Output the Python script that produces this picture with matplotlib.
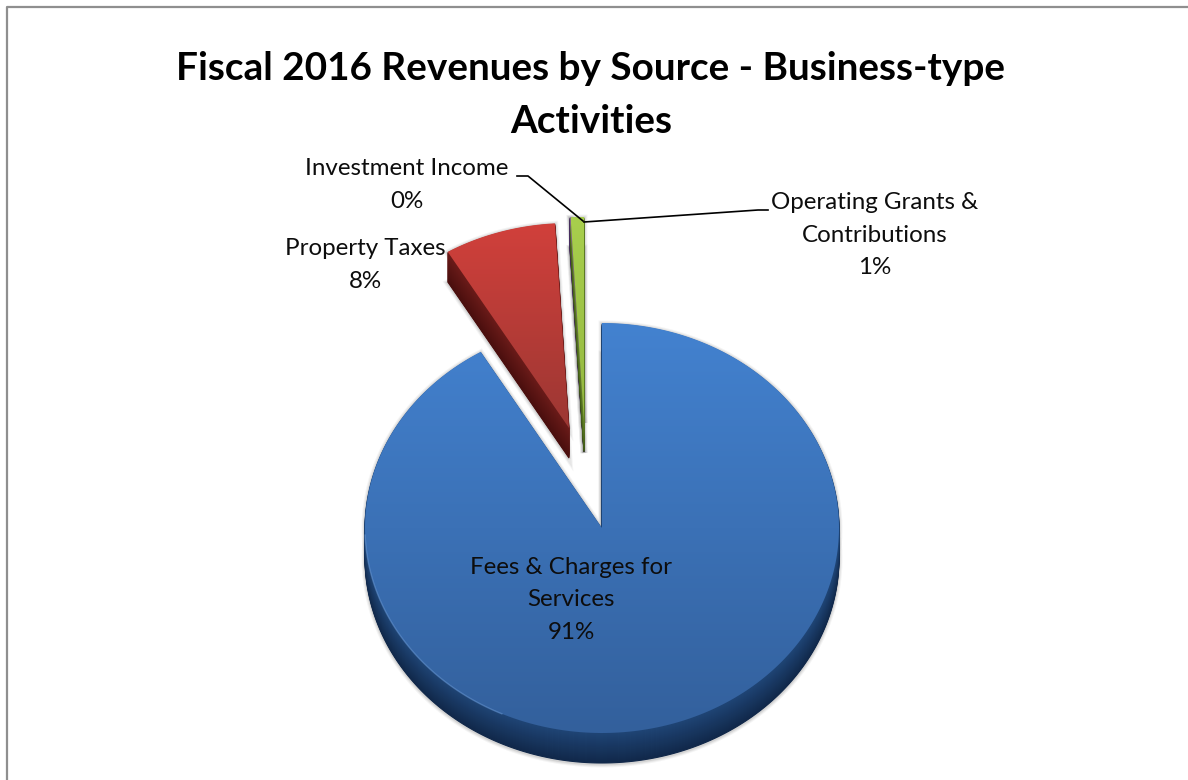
#!/usr/bin/env python3
"""
Fiscal 2016 revenues pie, drawn by hand as a tilted 3-D pie
"""

import numpy as np
import matplotlib
matplotlib.use('Agg')
import matplotlib.pyplot as plt
from matplotlib.colors import LinearSegmentedColormap
from matplotlib.patches import Polygon

title = 'Fiscal 2016 Revenues by Source - Business-type\nActivities'
sources = ['Fees & Charges for\nServices', 'Property Taxes', 'Investment Income', 'Operating Grants &\nContributions']
shares = [91.45, 7.6, 0.05, 0.9]

W, H = 1188, 780
CX, CY = 602, 528
RX, RY = 237, 205
DEPTH = 30

# pixel offset of each slice from the pie centre
offsets = [(0, 0), (-33, -100), (-18, -106), (-18, -106)]
top_colors = [('#4382d0', '#33609c'), ('#d1403b', '#9c3733'), ('#8e5fb0', '#8e5fb0'), ('#a8cf4d', '#94b840')]
side_colors = [('#1f4575', '#11284a'), ('#6a1b19', '#4a0f0e'), ('#4b2d66', '#4b2d66'), ('#5f7d25', '#3d5716')]
label_pos = [(571, 600), (365, 265), (407, 185), (875, 235)]


def slice_outline(start, stop, dx, dy):
    """Slice outline in pixels, angles in degrees clockwise from the top"""
    t = np.radians(np.linspace(start, stop, max(int(stop - start) * 2, 4)))
    xs = CX + dx + RX * np.sin(t)
    ys = CY + dy - RY * np.cos(t)
    return np.column_stack([np.r_[CX + dx, xs], np.r_[CY + dy, ys]])


fig = plt.figure(figsize=(W / 100, H / 100), dpi=100)
ax = fig.add_axes([0, 0, 1, 1])
ax.set_xlim(0, W)
ax.set_ylim(H, 0)
ax.axis('off')

# frame: only the left and top edges are in the picture
ax.plot([7, 7, W], [H, 7, 7], color='#8f8f8f', linewidth=1.6)

stops = np.cumsum([0] + shares) * 3.6
for i in range(len(shares)):
    outline = slice_outline(stops[i], stops[i + 1], *offsets[i])

    # soft grey shadow round the whole slice
    for grow, alpha in [(5, 0.05), (3.5, 0.07), (2, 0.1)]:
        for d in (0, DEPTH):
            ax.add_patch(Polygon(outline + [0, d + 1], closed=True, facecolor='none',
                                 edgecolor=(0.2, 0.2, 0.2, alpha), linewidth=grow))

    # side wall, deepest copy first
    side = LinearSegmentedColormap.from_list('side', side_colors[i])
    for d in range(DEPTH, 0, -1):
        ax.add_patch(Polygon(outline + [0, d], closed=True, facecolor=side(d / DEPTH),
                             edgecolor=side(d / DEPTH), linewidth=0.8))

    # top face with vertical gradient
    face = Polygon(outline, closed=True, facecolor='none', edgecolor='none')
    ax.add_patch(face)
    top = LinearSegmentedColormap.from_list('top', top_colors[i])
    y0, y1 = outline[:, 1].min(), outline[:, 1].max()
    x0, x1 = outline[:, 0].min(), outline[:, 0].max()
    im = ax.imshow(np.linspace(0, 1, 256).reshape(-1, 1), cmap=top, aspect='auto', zorder=2,
                   extent=(x0, x1, y1, y0), interpolation='bilinear')
    im.set_clip_path(face)

# thin light rim on the lower left of the big slice
rim = slice_outline(205, 268, 0, 0)[1:]
ax.plot(rim[:, 0], rim[:, 1], color='#6f9fdc', linewidth=1.0, alpha=0.5, zorder=2.5)

ax.set_xlim(0, W)
ax.set_ylim(H, 0)

ax.text(591, 95, title, ha='center', va='center', fontsize=27.9, fontweight='bold',
        family='Lato', color='black', linespacing=1.6)

for i, name in enumerate(sources):
    ax.text(label_pos[i][0], label_pos[i][1], f'{name}\n{shares[i]:.0f}%', ha='center', va='center',
            fontsize=17.4, family='Lato', color='#0d0d0d', linespacing=1.66)

# leader lines
ax.plot([517, 528, 583], [176, 176, 221], color='black', linewidth=1.2)
ax.plot([768, 758, 584], [210, 210, 222], color='black', linewidth=1.2)

fig.savefig('out.png', dpi=100)
plt.close(fig)
